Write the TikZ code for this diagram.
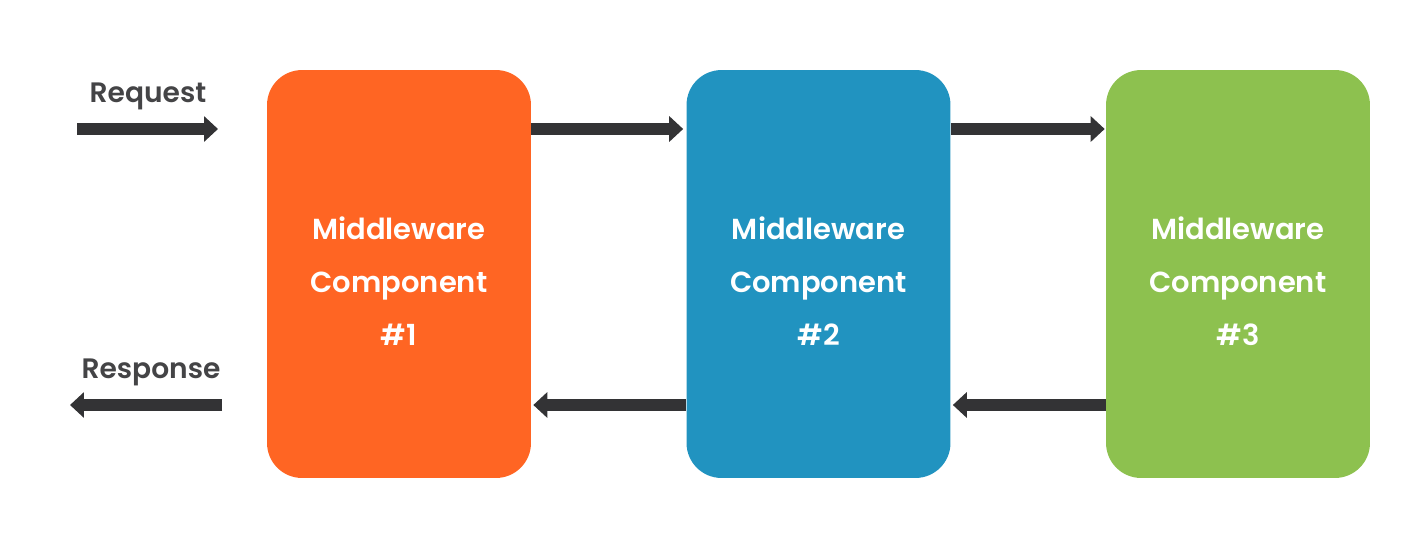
\documentclass[tikz,border=0pt]{standalone}
\usepackage{fontspec}
\setmainfont{Poppins}[BoldFont={Poppins SemiBold}]
\usetikzlibrary{arrows.meta}

\definecolor{mworange}{RGB}{255,101,35}
\definecolor{mwblue}{RGB}{33,147,192}
\definecolor{mwgreen}{RGB}{141,193,79}
\definecolor{arrowgray}{RGB}{51,51,53}
\definecolor{labelgray}{RGB}{68,68,70}

\begin{document}
\begin{tikzpicture}[x=0.02cm, y=-0.02cm,
    component/.style={rounded corners=0.7cm, minimum width=5.28cm, minimum height=8.16cm,
      align=center, text=white, font=\fontsize{16.5}{30}\selectfont\bfseries},
    flow/.style={draw=arrowgray, line width=0.24cm, -{Triangle[length=0.28cm, width=0.5cm]}},
    caption/.style={text=labelgray, font=\fontsize{16}{19}\selectfont\bfseries}]

      \useasboundingbox (0,0) rectangle (1422,534);

      \node[component, fill=mworange] (mw1) at (399,274) {};
      \node[component, fill=mwblue] (mw2) at (818.5,274) {};
      \node[component, fill=mwgreen] (mw3) at (1238,274) {};

      % texts sit a little below the box centres
      \node[component, minimum size=0pt] (mw1text) at (399,281) {Middleware\\Component\\\#1};
      \node[component, minimum size=0pt] (mw2text) at (818.5,281) {Middleware\\Component\\\#2};
      \node[component, minimum size=0pt] (mw3text) at (1238,281) {Middleware\\Component\\\#3};

      \coordinate (top) at (0,129);
      \coordinate (bot) at (0,405);
      \coordinate (reqstart) at (77,129);
      \coordinate (reqend) at (218,129);
      \coordinate (resstart) at (222,405);
      \coordinate (resend) at (70,405);

      \node[caption] (request) at (148,96) {Request};
      \node[caption] (response) at (151,372) {Response};

      % request path
      \draw[flow] (reqstart) -- (reqend);
      \draw[flow] (mw1.east |- top) -- ([xshift=-0.06cm]mw2.west |- top);
      \draw[flow] (mw2.east |- top) -- ([xshift=-0.02cm]mw3.west |- top);

      % response path
      \draw[flow] (mw3.west |- bot) -- ([xshift=0.04cm]mw2.east |- bot);
      \draw[flow] (mw2.west |- bot) -- ([xshift=0.04cm]mw1.east |- bot);
      \draw[flow] (resstart) -- (resend);
    \end{tikzpicture}
\end{document}
